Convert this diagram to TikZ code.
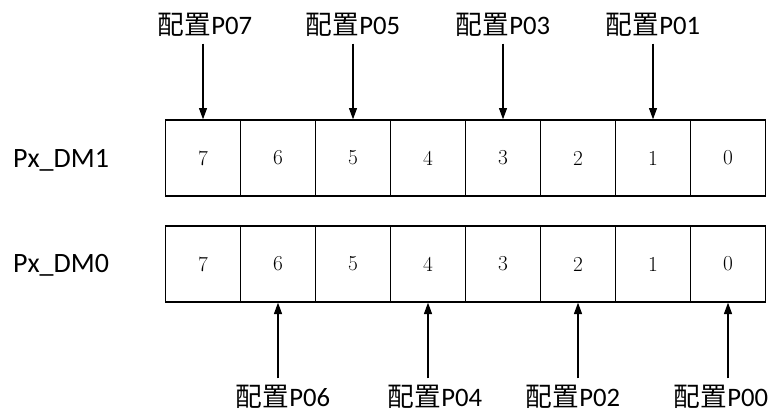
\documentclass[tikz,border=0pt]{standalone}
\usepackage{fontspec}
\newfontfamily\cjk{Noto Sans CJK SC}
\newfontfamily\calibri{Carlito}
\usetikzlibrary{arrows.meta,positioning}
\newcommand{\cfgpin}[1]{{\cjk 配置}P#1}
\tikzset{
    bitcell/.style={
    rectangle,draw=black,line width=1pt,minimum width=56.25pt,minimum height=57pt,
    font=\fontsize{16}{16}\selectfont
    },
    regname/.style={
    font=\calibri\fontsize{21}{21}\selectfont
    },
    cfgname/.style={
    font=\calibri\fontsize{20}{20}\selectfont,inner sep=5pt
    },
    cfgarrow/.style={
    -{Triangle[width=6pt,length=8.5pt]},line width=0.9pt
    },
}
\begin{document}
\begin{tikzpicture}[x=0.75pt, y=-0.75pt]
   \useasboundingbox (0,0) rectangle (777,412);
   % register names
   \node[regname] (dm1) at (61,160) {Px\_DM1};
   \node[regname] (dm0) at (61,265) {Px\_DM0};

   % Px_DM1 bits
   \node[bitcell] (h7) at (203,158) {7};
   \node[bitcell] (h6) at (278,158) {6};
   \node[bitcell] (h5) at (353,158) {5};
   \node[bitcell] (h4) at (428,158) {4};
   \node[bitcell] (h3) at (503,158) {3};
   \node[bitcell] (h2) at (578,158) {2};
   \node[bitcell] (h1) at (653,158) {1};
   \node[bitcell] (h0) at (728,158) {0};

   % Px_DM0 bits
   \node[bitcell] (l7) at (203,264) {7};
   \node[bitcell] (l6) at (278,264) {6};
   \node[bitcell] (l5) at (353,264) {5};
   \node[bitcell] (l4) at (428,264) {4};
   \node[bitcell] (l3) at (503,264) {3};
   \node[bitcell] (l2) at (578,264) {2};
   \node[bitcell] (l1) at (653,264) {1};
   \node[bitcell] (l0) at (728,264) {0};

   % odd pins on top, even pins below
   \node[cfgname] (p7) at (205,25) {\cfgpin{07}};
   \node[cfgname] (p5) at (353,25) {\cfgpin{05}};
   \node[cfgname] (p3) at (503,25) {\cfgpin{03}};
   \node[cfgname] (p1) at (653,25) {\cfgpin{01}};
   \node[cfgname] (p6) at (283,397) {\cfgpin{06}};
   \node[cfgname] (p4) at (435,397) {\cfgpin{04}};
   \node[cfgname] (p2) at (573,397) {\cfgpin{02}};
   \node[cfgname] (p0) at (721,397) {\cfgpin{00}};

  \path[cfgarrow]
    (p7.south -| h7) edge (h7.north)
    (p5.south -| h5) edge (h5.north)
    (p3.south -| h3) edge (h3.north)
    (p1.south -| h1) edge (h1.north)
    (p6.north -| l6) edge (l6.south)
    (p4.north -| l4) edge (l4.south)
    (p2.north -| l2) edge (l2.south)
    (p0.north -| l0) edge (l0.south);
\end{tikzpicture}
\end{document}
